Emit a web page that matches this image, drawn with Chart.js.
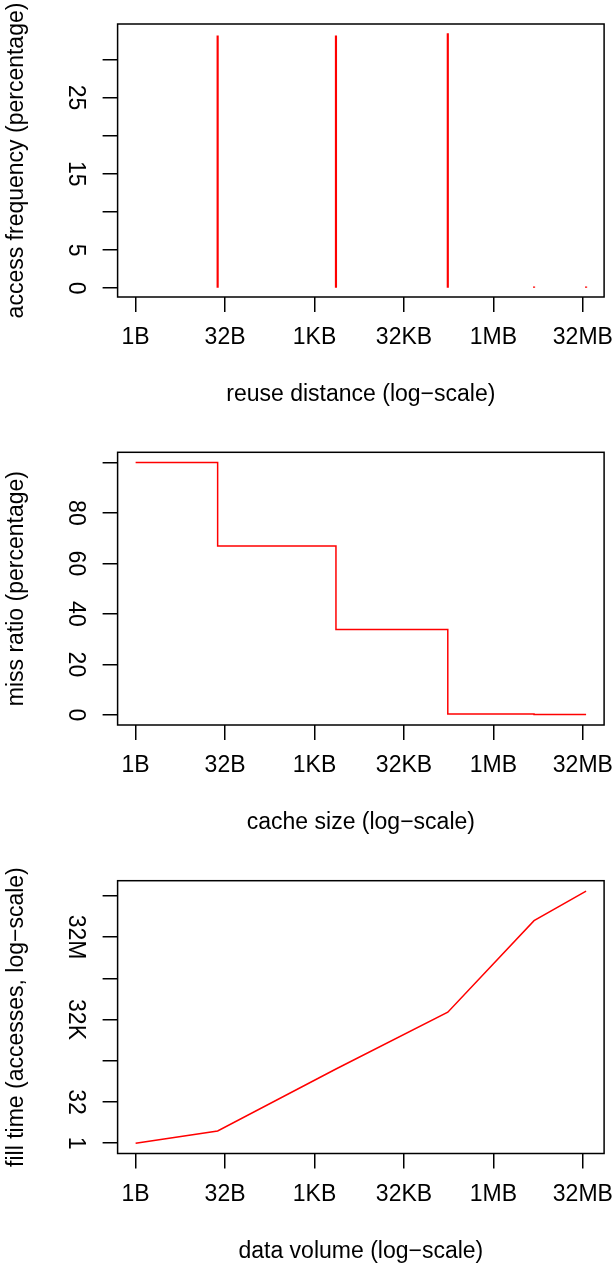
<!DOCTYPE html>
<html>
<head>
<meta charset="utf-8">
<script src="https://cdn.jsdelivr.net/npm/chart.js@4.4.1/dist/chart.umd.min.js"></script>
<style>
  body { margin: 0; background: #fff; }
  canvas { position: absolute; left: 0; }
</style>
</head>
<body>
<canvas id="freq" width="614" height="423" style="top:0px"></canvas>
<canvas id="miss" width="614" height="422" style="top:423px"></canvas>
<canvas id="fill" width="614" height="423" style="top:845px"></canvas>
<script>
// shared x axis (bytes, log-scale)
var sizeTicks = [1, 32, 1024, 32768, 1048576, 33554432];
var sizeTickLabels = ["1B", "32B", "1KB", "32KB", "1MB", "32MB"];

// panel 1: reuse distance histogram
var reuseDistance = [24, 2350, 179000, 5060000, 38000000];
var accessFreq = [33.1, 33.1, 33.4, 0.2, 0.2];
var freqTicks = [0, 5, 10, 15, 20, 25, 30];
var freqTickLabels = ["0", "5", "", "15", "", "25", ""];

// panel 2: miss ratio curve
var cacheSize = [1, 24, 2350, 179000, 5060000, 38000000];
var missRatio = [100, 66.9, 33.8, 0.4, 0.2, 0.2];
var missTicks = [0, 20, 40, 60, 80, 100];
var missTickLabels = ["0", "20", "40", "60", "80", ""];

// panel 3: fill time
var dataVolume = [1, 24, 2350, 179000, 5060000, 38000000];
var fillTime = [1, 2.8, 512, 61000, 134000000, 1600000000];
var fillTicks = [1, 32, 1024, 32768, 1048576, 33554432, 1073741824];
var fillTickLabels = ["1", "32", "", "32K", "", "32M", ""];

Chart.defaults.font.family = "'Liberation Sans', Arial, Helvetica, sans-serif";
Chart.defaults.font.size = 23;
Chart.defaults.color = "#000";
Chart.defaults.animation = false;

var boxPlugin = {
  id: "box",
  afterDatasetsDraw: function (chart) {
    var a = chart.chartArea, ctx = chart.ctx;
    ctx.save();
    ctx.strokeStyle = "#000";
    ctx.lineWidth = 1.5;
    ctx.strokeRect(a.left, a.top, a.right - a.left, a.bottom - a.top);
    ctx.restore();
  }
};

// R-style 4% extension on a log2 range
function log2Range(values) {
  var lo = Math.log2(Math.min.apply(null, values));
  var hi = Math.log2(Math.max.apply(null, values));
  var d = (hi - lo) * 0.04;
  return [Math.pow(2, lo - d), Math.pow(2, hi + d)];
}
var xRange = log2Range(cacheSize);

var tickGrid = {
  display: true, drawOnChartArea: false, drawTicks: true,
  tickLength: 15, color: "#000", lineWidth: 1.5, offset: false
};

function xAxis(title, height, titlePad) {
  return {
    type: "logarithmic",
    min: xRange[0], max: xRange[1],
    bounds: "data", offset: false,
    grid: tickGrid,
    border: { display: false },
    ticks: {
      autoSkip: false, minRotation: 0, maxRotation: 0, padding: 12,
      callback: function (v, i) { return sizeTickLabels[i]; }
    },
    afterBuildTicks: function (s) {
      s.ticks = sizeTicks.map(function (v) { return { value: v }; });
    },
    afterFit: function (s) { s.height = height; s.paddingLeft = 0; s.paddingRight = 0; },
    title: { display: true, text: title, padding: { top: 0, bottom: titlePad } }
  };
}

function yAxis(type, min, max, values, labels, pad, title) {
  return {
    type: type, min: min, max: max, bounds: "data",
    grid: tickGrid,
    border: { display: false },
    ticks: {
      autoSkip: false, minRotation: -90, maxRotation: -90,
      crossAlign: "center", padding: pad,
      callback: function (v, i) { return labels[i]; }
    },
    afterBuildTicks: function (s) {
      s.ticks = values.map(function (v) { return { value: v }; });
    },
    afterFit: function (s) { s.width = 117.6; s.paddingTop = 0; s.paddingBottom = 0; },
    title: { display: true, text: title, padding: { top: 3.2, bottom: 0 } }
  };
}

function pairs(xs, ys) {
  return xs.map(function (x, i) { return { x: x, y: ys[i] }; });
}

var common = {
  responsive: false,
  events: [],
  plugins: { legend: { display: false }, tooltip: { enabled: false } }
};

new Chart(document.getElementById("freq"), {
  type: "bar",
  data: {
    datasets: [{
      data: pairs(reuseDistance, accessFreq),
      backgroundColor: "#ff0000",
      borderWidth: 0,
      barThickness: 1.5
    }]
  },
  options: Object.assign({}, common, {
    layout: { padding: { top: 24, left: 0, right: 9.9, bottom: 0 } },
    scales: {
      x: xAxis("reuse distance (log\u2212scale)", 423 - 297, 14.2),
      y: yAxis("linear", -1.15, 34.65, freqTicks, freqTickLabels, 14, "access frequency (percentage)")
    }
  }),
  plugins: [boxPlugin]
});

new Chart(document.getElementById("miss"), {
  type: "line",
  data: {
    datasets: [{
      data: pairs(cacheSize, missRatio),
      borderColor: "#ff0000",
      borderWidth: 1.5,
      pointRadius: 0,
      fill: false,
      stepped: true
    }]
  },
  options: Object.assign({}, common, {
    layout: { padding: { top: 29.3, left: 0, right: 9.9, bottom: 0 } },
    scales: {
      x: xAxis("cache size (log\u2212scale)", 422 - 302, 8.2),
      y: yAxis("linear", -4, 104, missTicks, missTickLabels, 14, "miss ratio (percentage)")
    }
  }),
  plugins: [boxPlugin]
});

new Chart(document.getElementById("fill"), {
  type: "line",
  data: {
    datasets: [{
      data: pairs(dataVolume, fillTime),
      borderColor: "#ff0000",
      borderWidth: 1.5,
      pointRadius: 0,
      fill: false,
      tension: 0
    }]
  },
  options: Object.assign({}, common, {
    layout: { padding: { top: 35.7, left: 0, right: 9.9, bottom: 0 } },
    scales: {
      x: xAxis("data volume (log\u2212scale)", 423 - 308.5, 2.7),
      y: yAxis("logarithmic", Math.pow(2, -1.25), Math.pow(2, 31.84), fillTicks, fillTickLabels, 4.5,
        "fill time (accesses, log\u2212scale)")
    }
  }),
  plugins: [boxPlugin]
});
</script>
</body>
</html>
